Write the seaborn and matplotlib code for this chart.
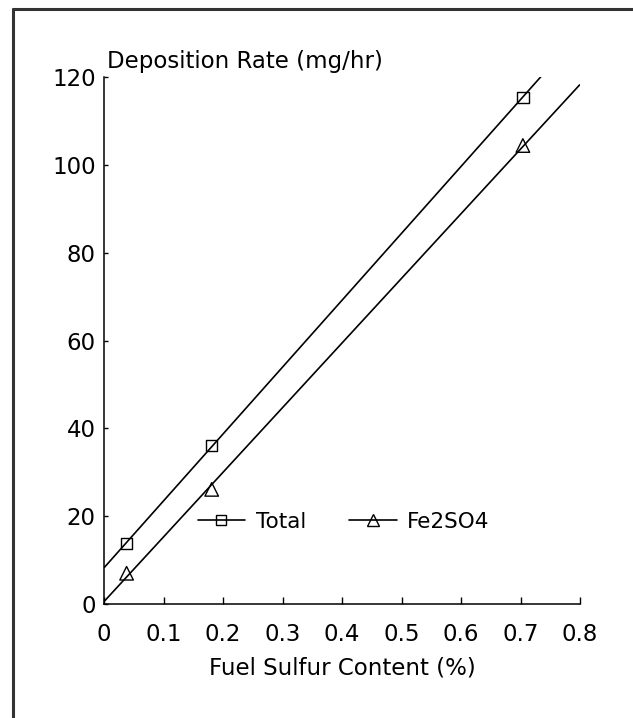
import matplotlib
matplotlib.use("Agg")
import matplotlib.pyplot as plt
import seaborn as sns
import pandas as pd
from matplotlib.lines import Line2D

# values
SULFUR = [0.038, 0.181, 0.704]
TOTAL = [13.8, 36.1, 115.4]
FE2SO4 = [7.0, 26.1, 104.4]
X_TICKS = [0, 0.1, 0.2, 0.3, 0.4, 0.5, 0.6, 0.7, 0.8]
X_LABELS = ["0", "0.1", "0.2", "0.3", "0.4", "0.5", "0.6", "0.7", "0.8"]
Y_TICKS = [0, 20, 40, 60, 80, 100, 120]
Y_LABELS = ["0", "20", "40", "60", "80", "100", "120"]


def main():
    sns.set_theme(style="ticks")
    plt.rcParams["font.family"] = ["DejaVu Sans"]

    df = pd.DataFrame({"sulfur": SULFUR, "Total": TOTAL, "Fe2SO4": FE2SO4})

    W, H = 633, 718
    fig = plt.figure(figsize=(W / 100, H / 100), dpi=100)
    ax = fig.add_axes([104 / W, 1 - 604 / H, 476 / W, 527 / H])
    ax.set_xlim(0, 0.8)
    ax.set_ylim(0, 120)

    sc = {"facecolors": "none", "linewidths": 1.0, "alpha": 1, "clip_on": False, "zorder": 3}
    ln = {"lw": 1.2, "solid_capstyle": "butt"}
    sns.regplot(data=df, x="sulfur", y="Total", ax=ax, ci=None, truncate=False, color="black",
                marker="s", scatter_kws={**sc, "s": 66}, line_kws=ln)
    sns.regplot(data=df, x="sulfur", y="Fe2SO4", ax=ax, ci=None, truncate=False, color="black",
                marker="^", scatter_kws={**sc, "s": 95}, line_kws=ln)
    ax.set_xlim(0, 0.8)
    ax.set_ylim(0, 120)

    sns.despine(ax=ax)
    for s in ["left", "bottom"]:
        ax.spines[s].set_linewidth(1.1)
        ax.spines[s].set_color("black")

    ax.set_xticks(X_TICKS, X_LABELS)
    ax.set_yticks(Y_TICKS, Y_LABELS)
    ax.tick_params(axis="x", direction="in", length=5, width=1, pad=14, labelsize=16.5, colors="black")
    ax.tick_params(axis="y", direction="in", length=3, width=1, pad=6, labelsize=16.5, colors="black")

    ax.set_xlabel("Fuel Sulfur Content (%)", fontsize=16.5, labelpad=7, color="black")
    ax.set_ylabel("Deposition Rate (mg/hr)", fontsize=16.5, rotation=0, ha="left", va="baseline",
                  color="black")
    ax.yaxis.set_label_coords(0.006, 1.017)

    handles = [
        Line2D([], [], color="black", lw=1.2, marker="s", markersize=7.5, markerfacecolor="none",
               markeredgewidth=1.0, label="Total"),
        Line2D([], [], color="black", lw=1.2, marker="^", markersize=8.5, markerfacecolor="none",
               markeredgewidth=1.0, label="Fe2SO4"),
    ]
    ax.legend(handles=handles, loc="center left", bbox_to_anchor=(0.197, 0.156), ncol=2,
              frameon=False, fontsize=15.5, borderpad=0, borderaxespad=0, handlelength=2.2,
              handletextpad=0.5, columnspacing=2.0, numpoints=1, labelcolor="black")

    # scan border, left and top only
    fig.add_artist(Line2D([13 / W, 13 / W], [0, 1 - 8 / H], transform=fig.transFigure,
                          color="#333333", lw=2.2, solid_capstyle="butt"))
    fig.add_artist(Line2D([12 / W, 1], [1 - 9 / H, 1 - 9 / H], transform=fig.transFigure,
                          color="#333333", lw=2.2, solid_capstyle="butt"))

    fig.savefig("out.png", dpi=100, facecolor="white")


if __name__ == "__main__":
    main()
